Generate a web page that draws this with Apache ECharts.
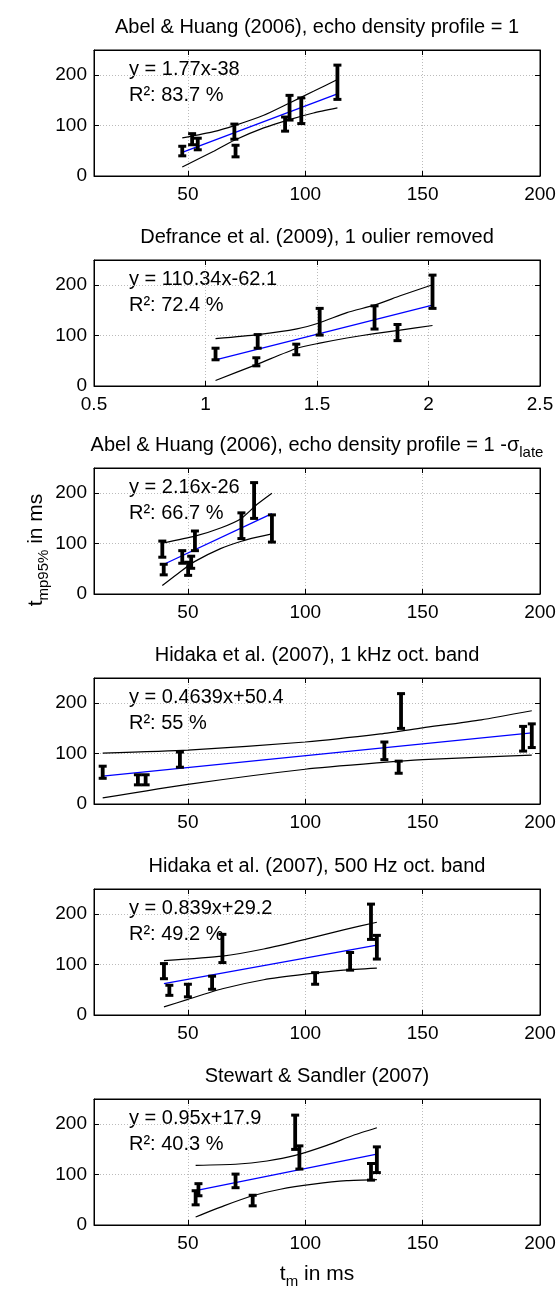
<!DOCTYPE html>
<html>
<head>
<meta charset="utf-8">
<script src="https://cdn.jsdelivr.net/npm/echarts@6.0.0/dist/echarts.min.js"></script>
<style>
  html, body { margin: 0; padding: 0; background: #fff; }
  #chart { width: 560px; height: 1289px; }
</style>
</head>
<body>
<div id="chart"></div>
<script>
// error bars: [x, low, centre, high]
const abelBars = [[47.6, 40, 49, 59], [51.8, 62, 73, 84], [54.2, 52, 64, 75], [69.8, 73, 88, 103],
    [70.3, 38, 49, 61], [91.4, 89, 103, 117], [93.3, 111, 135, 160], [98.3, 104, 130, 155], [113.7, 152, 186, 220]];
const abelFit = [[47.6, 47], [113.7, 163]];
const abelUpper = [[47.6, 75.5], [61, 88], [69.8, 100], [82.3, 120.5], [93.3, 145], [103.5, 168], [113.7, 191.4]];
const abelLower = [[47.6, 18], [61, 49], [69.8, 71], [82.3, 95.4], [93.3, 112], [103.5, 125], [113.7, 135]];

const defranceBars = [[1.045, 52, 63, 75], [1.234, 75, 88, 102], [1.228, 40, 48, 56], [1.407, 62, 72, 83],
    [1.512, 101, 128, 154], [1.758, 113, 136, 159], [1.861, 90, 106, 122], [2.018, 154, 186, 220]];
const defranceFit = [[1.045, 52], [2.018, 160.5]];
const defranceUpper = [[1.045, 94], [1.234, 102], [1.41, 113.4], [1.512, 125.6], [1.634, 145.7], [1.758, 160.5], [1.873, 179], [2.018, 201]];
const defranceLower = [[1.045, 11], [1.234, 43.5], [1.41, 75], [1.512, 85], [1.634, 95.3], [1.758, 104], [1.873, 110.8], [2.018, 120]];

const sigmaBars = [[39.1, 73, 88, 105], [39.7, 38, 48, 59], [47.6, 61, 73, 86], [50.1, 37, 50, 63],
    [51.4, 51, 62, 75], [53, 86, 105, 125], [72.8, 110, 133, 161], [78.2, 150, 185, 221], [85.8, 103, 130, 157]];
const sigmaFit = [[39.1, 57.5], [85.8, 159.3]];
const sigmaUpper = [[39.1, 100.7], [53, 114.7], [63.9, 131], [72.8, 150], [79.5, 178], [85.8, 200]];
const sigmaLower = [[39.1, 16.7], [46.9, 44.7], [53, 64.7], [63.9, 90], [72.8, 104.7], [79.5, 112.7], [85.8, 119.3]];

const khzBars = [[13.7, 51, 63, 75], [28.7, 38, 48, 58], [32, 38, 48, 58], [46.6, 73, 88, 103],
    [133.7, 88, 106, 123], [139.8, 61, 72, 85], [140.8, 150, 185, 219], [192.8, 105, 130, 154], [196.5, 112, 135, 159]];
const khzFit = [[13.7, 55.5], [196.5, 141]];
const khzUpper = [[13.7, 101], [50, 107], [100, 123], [132, 139], [150, 151], [175, 167], [196.5, 185]];
const khzLower = [[13.7, 12], [50, 39], [100, 69], [132, 82], [150, 88], [175, 93], [196.5, 97]];

const hzBars = [[39.8, 72, 88, 102], [42.1, 39, 49, 59], [50, 36, 49, 61], [60.3, 51, 64, 77],
    [64.7, 104, 130, 160], [104.2, 61, 72, 84], [119.1, 89, 106, 124], [128, 150, 185, 220], [130.5, 111, 134, 158]];
const hzFit = [[39.8, 62.4], [130.5, 138.5]];
const hzUpper = [[39.8, 108], [64.7, 117], [82.3, 131], [100, 150], [116.3, 169], [130.5, 184]];
const hzLower = [[39.8, 16], [50, 31], [64.7, 52], [82.3, 70], [100, 81], [116.3, 89], [130.5, 93]];

const stewartBars = [[53.3, 40, 55, 68], [54.5, 58, 70, 82], [70.3, 74, 87, 101], [77.6, 38, 48, 59],
    [95.7, 150, 185, 218], [97.5, 111, 135, 157], [128, 89, 106, 122], [130.5, 104, 130, 155]];
const stewartFit = [[53.3, 68.3], [130.5, 140.6]];
const stewartUpper = [[53.3, 118.5], [70.3, 120.5], [83.7, 127], [95.7, 138], [109.2, 158], [120.5, 178], [130.5, 193]];
const stewartLower = [[53.3, 16], [65.3, 38], [77.6, 58], [89.4, 71], [103.5, 81], [117.7, 88], [130.5, 90]];

const msTicks = [50, 100, 150, 200];
const ratioTicks = [0.5, 1, 1.5, 2, 2.5];
const yTicks = [0, 100, 200];

const panels = [
    { title: 'Abel & Huang (2006), echo density profile = 1', eq: 'y = 1.77x-38', r2: 'R²: 83.7 %',
      xMin: 10, xMax: 200, xTicks: msTicks, bars: abelBars, fit: abelFit, upper: abelUpper, lower: abelLower, top: 50 },
    { title: 'Defrance et al. (2009), 1 oulier removed', eq: 'y = 110.34x-62.1', r2: 'R²: 72.4 %',
      xMin: 0.5, xMax: 2.5, xTicks: ratioTicks, bars: defranceBars, fit: defranceFit, upper: defranceUpper, lower: defranceLower, top: 260 },
    { title: '{a|Abel & Huang (2006), echo density profile = 1 -σ}{s|late}', eq: 'y = 2.16x-26', r2: 'R²: 66.7 %',
      xMin: 10, xMax: 200, xTicks: msTicks, bars: sigmaBars, fit: sigmaFit, upper: sigmaUpper, lower: sigmaLower, top: 468 },
    { title: 'Hidaka et al. (2007), 1 kHz oct. band', eq: 'y = 0.4639x+50.4', r2: 'R²: 55 %',
      xMin: 10, xMax: 200, xTicks: msTicks, bars: khzBars, fit: khzFit, upper: khzUpper, lower: khzLower, top: 678 },
    { title: 'Hidaka et al. (2007), 500 Hz oct. band', eq: 'y = 0.839x+29.2', r2: 'R²: 49.2 %',
      xMin: 10, xMax: 200, xTicks: msTicks, bars: hzBars, fit: hzFit, upper: hzUpper, lower: hzLower, top: 889 },
    { title: 'Stewart & Sandler (2007)', eq: 'y = 0.95x+17.9', r2: 'R²: 40.3 %',
      xMin: 10, xMax: 200, xTicks: msTicks, bars: stewartBars, fit: stewartFit, upper: stewartUpper, lower: stewartLower, top: 1099 }
];

const gridLeft = 94, gridRight = 20, gridHeight = 126;
const plotCenter = gridLeft + (560 - gridLeft - gridRight) / 2;
const font = '"Liberation Sans", Arial, Helvetica, sans-serif';

function errorBar(params, api) {
    const x = api.value(0);
    const lo = api.coord([x, api.value(1)]);
    const hi = api.coord([x, api.value(3)]);
    const w = 4;
    const st = { stroke: '#000', lineWidth: 3 };
    return {
        type: 'group',
        children: [
            { type: 'line', shape: { x1: lo[0], y1: lo[1], x2: hi[0], y2: hi[1] }, style: { stroke: '#000', lineWidth: 3.8 } },
            { type: 'line', shape: { x1: lo[0] - w, y1: lo[1], x2: lo[0] + w, y2: lo[1] }, style: st },
            { type: 'line', shape: { x1: hi[0] - w, y1: hi[1], x2: hi[0] + w, y2: hi[1] }, style: st }
        ]
    };
}

const grid = [], xAxis = [], yAxis = [], series = [], graphic = [];

panels.forEach((p, i) => {
    grid.push({ left: gridLeft, right: gridRight, top: p.top, height: gridHeight,
        show: true, borderColor: '#000', borderWidth: 1, backgroundColor: '#fff' });

    const tick = { inside: true, length: 5, lineStyle: { color: '#000' } };
    xAxis.push({
        type: 'value', gridIndex: i, min: p.xMin, max: p.xMax, position: 'bottom',
        axisLine: { onZero: false, lineStyle: { color: '#000' } },
        axisTick: { ...tick, customValues: p.xTicks },
        axisLabel: { customValues: p.xTicks, color: '#000', fontSize: 19, fontFamily: font, margin: 9 },
        splitLine: { show: true, lineStyle: { color: '#bbb', type: [1, 2] } }
    });
    xAxis.push({
        type: 'value', gridIndex: i, min: p.xMin, max: p.xMax, position: 'top',
        axisLine: { onZero: false, lineStyle: { color: '#000' } },
        axisTick: { ...tick, customValues: p.xTicks },
        axisLabel: { show: false }, splitLine: { show: false }
    });
    yAxis.push({
        type: 'value', gridIndex: i, min: 0, max: 250, position: 'left',
        axisLine: { show: true, onZero: false, lineStyle: { color: '#000' } },
        axisTick: { show: true, ...tick, customValues: yTicks },
        axisLabel: { customValues: yTicks, color: '#000', fontSize: 19, fontFamily: font, margin: 7 },
        splitLine: { show: true, lineStyle: { color: '#bbb', type: [1, 2] } }
    });
    yAxis.push({
        type: 'value', gridIndex: i, min: 0, max: 250, position: 'right',
        axisLine: { show: true, onZero: false, lineStyle: { color: '#000' } },
        axisTick: { show: true, ...tick, customValues: yTicks },
        axisLabel: { show: false }, splitLine: { show: false }
    });

    const axes = { xAxisIndex: i * 2, yAxisIndex: i * 2 };
    const curve = { type: 'line', ...axes, smooth: 0.2, symbol: 'none',
        lineStyle: { color: '#000', width: 1.2 }, silent: true, z: 3 };
    series.push({ ...curve, data: p.upper });
    series.push({ ...curve, data: p.lower });
    series.push({ type: 'line', ...axes, data: p.fit, symbol: 'none',
        lineStyle: { color: '#0000ff', width: 1.3 }, silent: true, z: 4 });
    series.push({ type: 'custom', ...axes, data: p.bars, renderItem: errorBar,
        encode: { x: 0, y: [1, 3] }, silent: true, z: 5 });

    graphic.push({
        type: 'text', x: plotCenter, y: p.top - 23,
        style: { text: p.title, fill: '#000', font: '20px ' + font,
            textAlign: 'center', textVerticalAlign: 'middle',
            rich: { a: { fontSize: 20, fontFamily: font, lineHeight: 30, verticalAlign: 'middle' },
                    s: { fontSize: 15, fontFamily: font, lineHeight: 15, verticalAlign: 'bottom' } } }
    });
    graphic.push({ type: 'text', x: gridLeft + 35, y: p.top + 19,
        style: { text: p.eq, fill: '#000', font: '20px ' + font, textVerticalAlign: 'middle' } });
    graphic.push({ type: 'text', x: gridLeft + 35, y: p.top + 45,
        style: { text: p.r2, fill: '#000', font: '20px ' + font, textVerticalAlign: 'middle' } });
});

// axis names
graphic.push({
    type: 'text', x: 36, y: 550, rotation: Math.PI / 2,
    style: { text: '{a|t}{s|mp95%}{a| in ms}', textAlign: 'center', textVerticalAlign: 'middle', fill: '#000',
        rich: { a: { fontSize: 21, fontFamily: font, lineHeight: 30, verticalAlign: 'middle' },
                s: { fontSize: 15, fontFamily: font, lineHeight: 15, verticalAlign: 'bottom' } } }
});
graphic.push({
    type: 'text', x: plotCenter, y: 1274,
    style: { text: '{a|t}{s|m}{a| in ms}', textAlign: 'center', textVerticalAlign: 'middle', fill: '#000',
        rich: { a: { fontSize: 21, fontFamily: font, lineHeight: 30, verticalAlign: 'middle' },
                s: { fontSize: 15, fontFamily: font, lineHeight: 15, verticalAlign: 'bottom' } } }
});

const chart = echarts.init(document.getElementById('chart'));
chart.setOption({
    animation: false,
    backgroundColor: '#fff',
    grid: grid,
    xAxis: xAxis,
    yAxis: yAxis,
    series: series,
    graphic: graphic
});
</script>
</body>
</html>
